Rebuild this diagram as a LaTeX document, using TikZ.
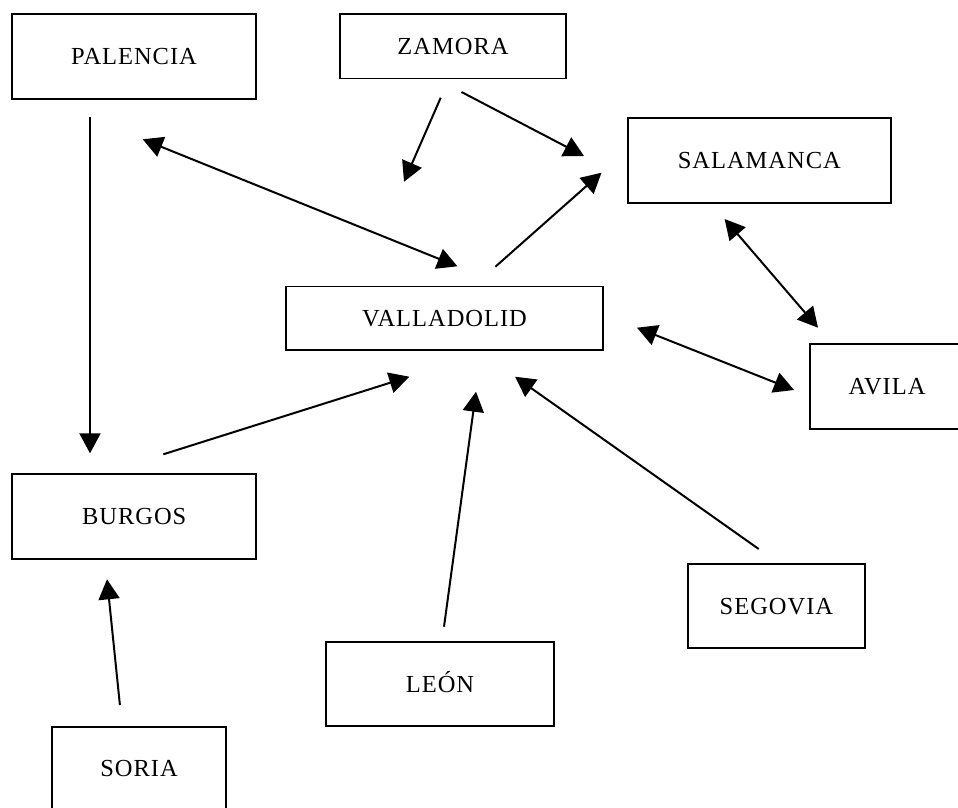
\documentclass[tikz,border=0pt]{standalone}
\usepackage{fontspec}
\setmainfont{Liberation Serif}[LetterSpace=4]
\usetikzlibrary{arrows.meta}
\begin{document}
\begin{tikzpicture}[x=1pt,y=-1pt,
  city/.style={draw,line width=1.9pt,rectangle,inner sep=0pt,
    font=\fontsize{24.5}{29}\selectfont,text height=16.3pt,text depth=0pt},
  conn/.style={line width=2pt,-{Triangle[length=20pt,width=21pt]}},
  bidir/.style={line width=2pt,{Triangle[length=20pt,width=21pt]}-{Triangle[length=20pt,width=21pt]}}]
\useasboundingbox (0,0) rectangle (958,807);
\fill[white] (0,0) rectangle (958,807);
% nodes
\node[city,minimum width=244.6pt,minimum height=84.7pt] (pal) at (134,56.3) {PALENCIA};
\node[city,minimum width=226pt,minimum height=64.5pt] (zam) at (453,46.2) {ZAMORA};
\node[city,minimum width=262.5pt,minimum height=84.4pt] (sal) at (759.3,160.5) {SALAMANCA};
\node[city,minimum width=317pt,minimum height=63.6pt] (val) at (444.5,318.3) {VALLADOLID};
\node[city,minimum width=154pt,minimum height=84.4pt] (avi) at (887,386.5) {AVILA};
\node[city,minimum width=244.4pt,minimum height=84.4pt] (bur) at (134.2,516.5) {BURGOS};
\node[city,minimum width=176.7pt,minimum height=84pt] (seg) at (776.4,606.3) {SEGOVIA};
\node[city,minimum width=228pt,minimum height=83.7pt] (leo) at (440,684.2) {LEÓN};
\node[city,minimum width=174pt,minimum height=84pt] (sor) at (139,768.7) {SORIA};
% connector end points
\coordinate (palA) at (90,117);
\coordinate (burA) at (90,453.3);
\coordinate (palB) at (142.7,139.3);
\coordinate (valB) at (457.4,266.3);
\coordinate (zamC) at (440.7,97.7);
\coordinate (freeC) at (404,181.8);
\coordinate (zamD) at (461.5,92);
\coordinate (salD) at (584,156);
\coordinate (valE) at (495.4,266.7);
\coordinate (salE) at (601.5,172.7);
\coordinate (salF) at (724.6,219);
\coordinate (aviF) at (818,327.7);
\coordinate (valG) at (637,327.7);
\coordinate (aviG) at (794,390);
\coordinate (burH) at (163.3,454.3);
\coordinate (valH) at (409.3,376.7);
\coordinate (leoI) at (444,626.7);
\coordinate (valI) at (476,391.7);
\coordinate (segJ) at (758.7,549);
\coordinate (valJ) at (515,376.7);
\coordinate (sorK) at (119.9,705);
\coordinate (burK) at (107,579.3);
% connectors
\draw[conn] (palA) -- (burA);
\draw[bidir] (palB) -- (valB);
\draw[conn] (zamC) -- (freeC);
\draw[conn] (zamD) -- (salD);
\draw[conn] (valE) -- (salE);
\draw[bidir] (salF) -- (aviF);
\draw[bidir] (valG) -- (aviG);
\draw[conn] (burH) -- (valH);
\draw[conn] (leoI) -- (valI);
\draw[conn] (segJ) -- (valJ);
\draw[conn] (sorK) -- (burK);
\end{tikzpicture}
\end{document}
